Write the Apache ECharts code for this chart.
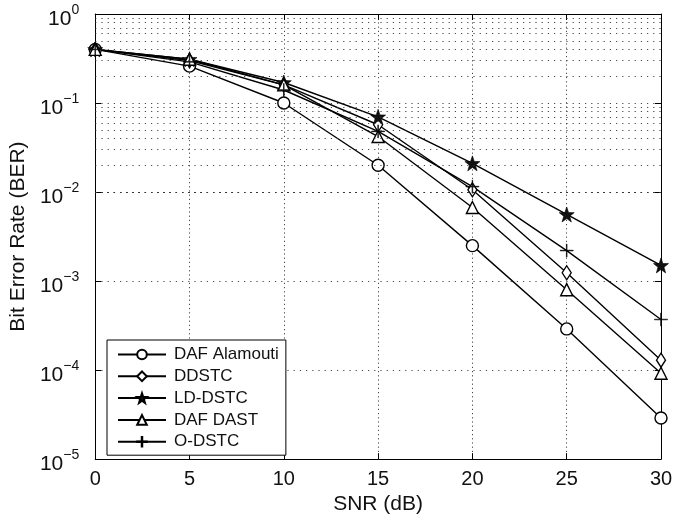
<!DOCTYPE html>
<html><head><meta charset="utf-8">
<script src="https://cdn.jsdelivr.net/npm/echarts@6/dist/echarts.min.js"></script>
<style>html,body{margin:0;padding:0;background:#fff}#c{width:687px;height:520px}</style>
</head><body><div id="c"></div>
<script>
const snr = [0, 5, 10, 15, 20, 25, 30];
const dafAlamouti = [0.40, 0.26, 0.100, 0.020, 0.0025, 0.00029, 0.000029];
const ddstc      = [0.40, 0.30, 0.160, 0.057, 0.0106, 0.00124, 0.000129];
const ldDstc     = [0.40, 0.31, 0.170, 0.070, 0.021, 0.0056, 0.0015];
const dafDast    = [0.40, 0.31, 0.160, 0.042, 0.0067, 0.0008, 0.000092];
const oDstc      = [0.40, 0.29, 0.140, 0.048, 0.0115, 0.0022, 0.00037];
const seriesNames = ['DAF Alamouti', 'DDSTC', 'LD-DSTC', 'DAF DAST', 'O-DSTC'];
const xTicks = [0, 5, 10, 15, 20, 25, 30];
const yDecades = [1e-5, 1e-4, 1e-3, 1e-2, 1e-1, 1];

// minor log grid positions (axis decoration only)
const minorGrid = [];
for (let d = 0; d < yDecades.length - 1; d++) {
  for (let m = 2; m <= 9; m++) minorGrid.push(yDecades[d] * m);
}

const starPath = 'path://M0,-10 L2.35,-3.24 L9.51,-3.09 L3.8,1.24 L5.88,8.09 L0,4 L-5.88,8.09 L-3.8,1.24 L-9.51,-3.09 L-2.35,-3.24 Z';
const plusPath = 'path://M-0.5,-10 L0.5,-10 L0.5,-0.5 L10,-0.5 L10,0.5 L0.5,0.5 L0.5,10 L-0.5,10 L-0.5,0.5 L-10,0.5 L-10,-0.5 L-0.5,-0.5 Z';

function expLabel(v) {
  const e = Math.round(Math.log10(v));
  const s = String(e).replace('-', '\u2212');
  return '{b|10}{s|' + s + '}';
}

const font = 'Liberation Sans, Arial, Helvetica, sans-serif';
const lineW = 1.4;
function mk(name, data, symbol, size, hollow) {
  return {
    name, type: 'line', data: snr.map((x, i) => [x, data[i]]),
    symbol, symbolSize: size, showSymbol: true,
    lineStyle: {color: '#000', width: lineW},
    itemStyle: {color: hollow ? '#fff' : '#111', borderColor: '#000', borderWidth: hollow ? 1.4 : 0.6},
    z: 3
  };
}

const series = [
  mk(seriesNames[0], dafAlamouti, 'circle', 12, true),
  mk(seriesNames[1], ddstc, 'diamond', [9, 14], true),
  mk(seriesNames[2], ldDstc, starPath, 15, false),
  mk(seriesNames[3], dafDast, 'triangle', 12, true),
  mk(seriesNames[4], oDstc, plusPath, 13, false)
];
series.push({
  type: 'line', data: [], silent: true,
  markLine: {
    silent: true, symbol: 'none', label: {show: false},
    lineStyle: {color: '#333', width: 0.9, type: [1.2, 5]},
    data: minorGrid.map(v => ({yAxis: v}))
  }
});

const chart = echarts.init(document.getElementById('c'), null, {renderer: 'canvas'});
chart.setOption({
  backgroundColor: '#fff',
  animation: false,
  grid: {left: 95, right: 26, top: 14, bottom: 59, containLabel: false},
  legend: {
    orient: 'vertical', left: 107, top: 340,
    data: seriesNames,
    itemWidth: 48, itemHeight: 12, itemGap: 4.8,
    padding: [6, 7, 5, 10],
    backgroundColor: '#fff', borderColor: '#000', borderWidth: 1,
    textStyle: {fontFamily: font, fontSize: 17, color: '#111', padding: [0, 0, 0, 3]},
    z: 10
  },
  xAxis: [{
    type: 'value', min: 0, max: 30, interval: 5,
    name: 'SNR (dB)', nameLocation: 'middle', nameGap: 34,
    nameTextStyle: {fontFamily: font, fontSize: 21, color: '#111'},
    axisLine: {show: true, onZero: false, lineStyle: {color: '#000', width: 1}},
    axisTick: {show: true, inside: true, length: 6, lineStyle: {color: '#000'}},
    axisLabel: {fontFamily: font, fontSize: 20, color: '#111', margin: 10},
    splitLine: {show: true, lineStyle: {color: '#333', width: 0.9, type: [1.2, 3]}}
  }, {
    type: 'value', min: 0, max: 30, interval: 5, position: 'top',
    axisLine: {show: true, onZero: false, lineStyle: {color: '#000', width: 1}},
    axisTick: {show: true, inside: true, length: 6, lineStyle: {color: '#000'}},
    axisLabel: {show: false}, splitLine: {show: false}
  }],
  yAxis: [{
    type: 'log', logBase: 10, min: 1e-5, max: 1,
    name: 'Bit Error Rate (BER)', nameLocation: 'middle', nameGap: 60,
    nameTextStyle: {fontFamily: font, fontSize: 21, color: '#111'},
    axisLine: {show: true, onZero: false, lineStyle: {color: '#000', width: 1}},
    axisTick: {show: true, inside: true, length: 6, lineStyle: {color: '#000'}},
    axisLabel: {
      formatter: expLabel, margin: 16,
      rich: {
        b: {fontFamily: font, fontSize: 21, color: '#111', padding: [10, 0, 0, 0]},
        s: {fontFamily: font, fontSize: 14, color: '#111', padding: [0, 0, 8, 0]}
      }
    },
    splitLine: {show: true, lineStyle: {color: '#333', width: 0.9, type: [1.2, 5]}}
  }, {
    type: 'log', logBase: 10, min: 1e-5, max: 1, position: 'right',
    axisLine: {show: true, onZero: false, lineStyle: {color: '#000', width: 1}},
    axisTick: {show: true, inside: true, length: 6, lineStyle: {color: '#000'}},
    axisLabel: {show: false}, splitLine: {show: false}
  }],
  series
});
</script></body></html>
